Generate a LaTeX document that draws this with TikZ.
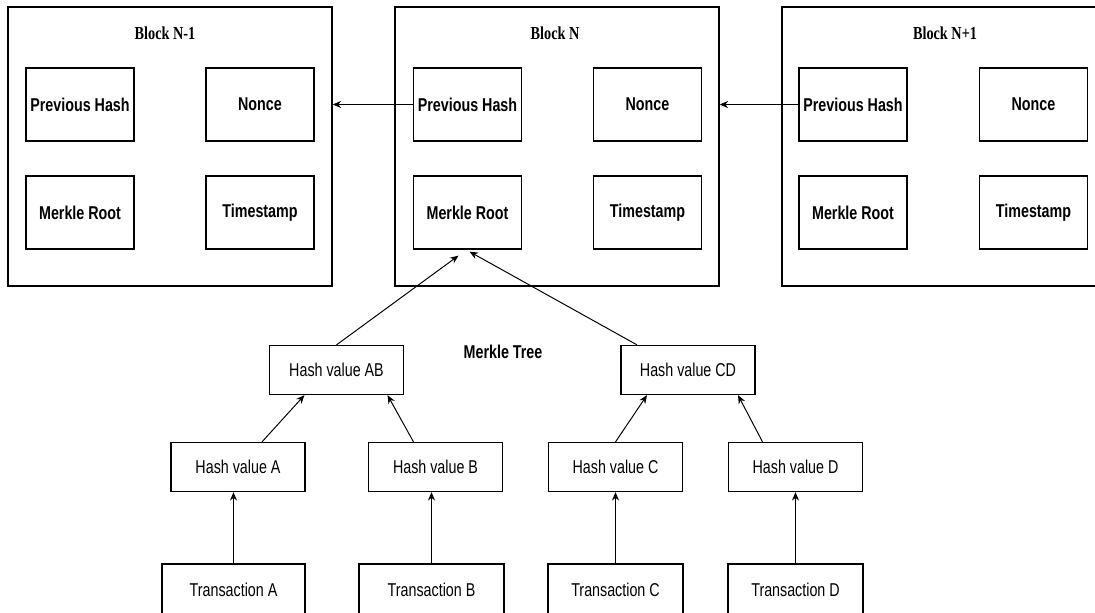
\documentclass[tikz,border=0pt]{standalone}
\usepackage{fontspec}
\setmainfont{Liberation Sans}[FakeStretch=0.77]
\newfontfamily\titlefont{Liberation Serif}[FakeStretch=0.78]
\usetikzlibrary{arrows.meta}

\begin{document}
\begin{tikzpicture}[x=0.025cm,y=-0.025cm,
        block/.style={draw,line width=0.9pt,minimum width=8.1cm,minimum height=6.975cm,inner sep=0pt},
        title/.style={font=\titlefont\fontsize{13}{15}\selectfont\bfseries},
        field/.style={draw,line width=0.9pt,minimum width=2.7cm,minimum height=1.825cm,inner sep=0pt,font=\fontsize{13.2}{15}\selectfont\bfseries},
        hashbox/.style={draw,line width=0.9pt,minimum width=3.35cm,minimum height=1.225cm,inner sep=0pt,font=\fontsize{13.2}{15}\selectfont},
        txbox/.style={hashbox,minimum height=1.3cm},
        arr/.style={-{Stealth[length=6pt,width=5pt]},line width=0.7pt}]
        \useasboundingbox (0,0) rectangle (1095,612);
        \clip (0,0) rectangle (1095,612);
        \node[block] (blkA) at (170,146.5) {};
        \node[block] (blkB) at (557,146.5) {};
        \node[block] (blkC) at (944,146.5) {};
        \node[title] (ttlA) at (165,33) {Block N-1};
        \node[title] (ttlB) at (555,33) {Block N};
        \node[title] (ttlC) at (945,33) {Block N+1};
        \node[field] (prevA) at (80,104.5) {Previous Hash};
        \node[field] (nonceA) at (260,104.5) {Nonce};
        \node[field] (rootA) at (80,212.5) {Merkle Root};
        \node[field] (timeA) at (260,212.5) {Timestamp};
        \node[field] (prevB) at (467.5,104.5) {Previous Hash};
        \node[field] (nonceB) at (647.5,104.5) {Nonce};
        \node[field] (rootB) at (467.5,212.5) {Merkle Root};
        \node[field] (timeB) at (647.5,212.5) {Timestamp};
        \node[field] (prevC) at (853,104.5) {Previous Hash};
        \node[field] (nonceC) at (1033.5,104.5) {Nonce};
        \node[field] (rootC) at (853,212.5) {Merkle Root};
        \node[field] (timeC) at (1033.5,212.5) {Timestamp};
        \draw[arr] (prevB.west) -- (prevB.west -| blkA.east);
        \draw[arr] (prevC.west) -- (prevC.west -| blkB.east);
        \node[font=\fontsize{13.2}{15}\selectfont\bfseries] (mtree) at (503,352) {Merkle Tree};
        \node[hashbox] (hAB) at (336.5,370) {Hash value AB};
        \node[hashbox] (hCD) at (688,370) {Hash value CD};
        \node[hashbox] (hA) at (238,467) {Hash value A};
        \node[hashbox] (hB) at (435.5,467) {Hash value B};
        \node[hashbox] (hC) at (615.5,467) {Hash value C};
        \node[hashbox] (hD) at (795.5,467) {Hash value D};
        \node[txbox,minimum width=3.575cm] (txA) at (233.5,590) {Transaction A};
        \node[txbox,minimum width=3.625cm] (txB) at (431.5,590) {Transaction B};
        \node[txbox,minimum width=3.375cm] (txC) at (615.5,590) {Transaction C};
        \node[txbox,minimum width=3.375cm] (txD) at (795.5,590) {Transaction D};
        \draw[arr] (hAB.north) -- ([xshift=-0.225cm,yshift=-0.15cm]rootB.south);
        \draw[arr] ([xshift=-1.275cm]hCD.north) -- ([xshift=0.05cm,yshift=-0.05cm]rootB.south);
        \draw[arr] ([xshift=0.6cm]hA.north) -- ([xshift=-0.8cm]hAB.south);
        \draw[arr] ([xshift=-0.55cm]hB.north) -- ([xshift=1.275cm]hAB.south);
        \draw[arr] (hC.north) -- ([xshift=-1.025cm]hCD.south);
        \draw[arr] ([xshift=-0.825cm]hD.north) -- ([xshift=1.25cm]hCD.south);
        \draw[arr] (txA.north) -- (txA.north |- hA.south);
        \draw[arr] (txB.north) -- (txB.north |- hB.south);
        \draw[arr] (txC.north) -- (txC.north |- hC.south);
        \draw[arr] (txD.north) -- (txD.north |- hD.south);
\end{tikzpicture}
\end{document}
